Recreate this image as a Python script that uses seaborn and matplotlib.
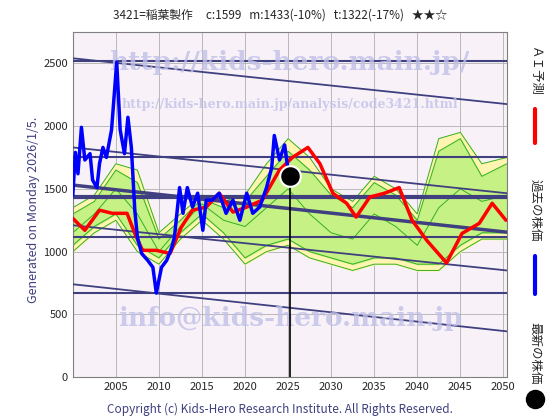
import numpy as np
import pandas as pd
import matplotlib
matplotlib.use("Agg")
import matplotlib.pyplot as plt
import seaborn as sns

sns.set_style("white")
plt.rcParams['font.family'] = ['Noto Sans CJK JP', 'DejaVu Sans']

# past prices (blue)
past_year = [2000.0, 2000.3, 2000.6, 2001.0, 2001.4, 2002.0, 2002.3, 2002.8, 2003.1, 2003.5,
             2003.9, 2004.5, 2005.1, 2005.5, 2006.0, 2006.4, 2006.8, 2007.2, 2007.5, 2008.0,
             2008.7, 2009.3, 2009.7, 2010.3, 2010.9, 2011.5, 2011.8, 2012.4, 2012.8, 2013.3,
             2013.9, 2014.5, 2015.1, 2015.5, 2016.2, 2017.0, 2017.8, 2018.6, 2019.4, 2020.2,
             2020.9, 2021.7, 2022.5, 2023.1, 2023.4, 2024.0, 2024.6, 2024.9, 2025.2]
past_price = [1450, 1790, 1620, 1990, 1730, 1780, 1570, 1510, 1700, 1830,
              1750, 1970, 2510, 1970, 1780, 2070, 1830, 1330, 1115, 985,
              930, 875, 670, 875, 930, 1035, 1115, 1510, 1305, 1510,
              1355, 1465, 1170, 1410, 1410, 1465, 1305, 1410, 1250, 1465,
              1305, 1355, 1510, 1670, 1925, 1730, 1850, 1700, 1599]

# AI forecast (red)
ai_year = [2000.0, 2001.4, 2003.1, 2004.6, 2006.3, 2007.2, 2008.1, 2009.7, 2011.3, 2012.6,
           2013.9, 2015.5, 2017.0, 2018.6, 2020.2, 2022.0, 2024.0, 2025.5, 2027.3, 2028.7,
           2030.2, 2031.8, 2032.9, 2034.5, 2036.2, 2037.9, 2039.4, 2041.1, 2043.4, 2045.2,
           2047.2, 2048.7, 2050.3]
ai_price = [1265, 1170, 1330, 1305, 1305, 1145, 1010, 1010, 985, 1195,
            1330, 1355, 1465, 1315, 1355, 1410, 1650, 1750, 1830, 1700,
            1465, 1385, 1275, 1435, 1465, 1510, 1250, 1090, 910, 1145,
            1225, 1385, 1250]

# pattern bands
band_year = [2000, 2002.5, 2005, 2007.5, 2010, 2012.5, 2015, 2017.5, 2020, 2022.5, 2025,
             2027.5, 2030, 2032.5, 2035, 2037.5, 2040, 2042.5, 2045, 2047.5, 2050.4]
yellow_hi = [1350, 1450, 1700, 1650, 1150, 1300, 1450, 1400, 1450, 1700, 1900,
             1750, 1500, 1400, 1600, 1500, 1300, 1900, 1950, 1700, 1750]
yellow_lo = [1000, 1150, 1250, 1000, 900, 1100, 1250, 1100, 900, 1000, 1050,
             950, 900, 850, 900, 900, 850, 850, 1000, 1100, 1100]
green_hi = [1300, 1400, 1650, 1550, 1100, 1250, 1420, 1350, 1400, 1600, 1800,
            1650, 1450, 1350, 1550, 1450, 1250, 1800, 1900, 1600, 1700]
green_lo = [1050, 1200, 1300, 1050, 950, 1150, 1300, 1150, 950, 1050, 1100,
            1000, 950, 900, 950, 950, 900, 900, 1050, 1150, 1150]
green_mid = [1150, 1300, 1500, 1300, 1000, 1200, 1380, 1250, 1200, 1350, 1500,
             1300, 1150, 1100, 1300, 1200, 1050, 1350, 1500, 1400, 1450]

# trend / support lines (start at 2000, end at 2050.4)
flat_levels = [2520, 1750, 1435, 1120, 670]
slope_start = [2540, 1830, 1530, 1210, 740]
slope_end = [2175, 1465, 1155, 850, 365]

fig = plt.figure(figsize=(5.6, 4.2), dpi=100)
ax = fig.add_axes([0.130, 0.102, 0.775, 0.822])
ax.set_facecolor('#f8f2f8')

ax.fill_between(band_year, yellow_lo, yellow_hi, color='#fff5b0', zorder=1)
ax.fill_between(band_year, green_lo, green_hi, color='#b8f07a', alpha=0.8, zorder=1)
for s in (yellow_hi, green_hi, green_mid, green_lo, yellow_lo):
    ax.plot(band_year, s, color='#33b020', lw=0.7, zorder=2)

for lv in flat_levels:
    ax.axhline(lv, color='#404080', lw=1.5 if lv != 1435 else 3, zorder=3)
for a, b in zip(slope_start, slope_end):
    ax.plot([2000, 2050.4], [a, b], color='#404080', lw=1.3 if a != 1530 else 2.5, zorder=3)

df_ai = pd.DataFrame({'year': ai_year, 'price': ai_price})
df_past = pd.DataFrame({'year': past_year, 'price': past_price})
sns.lineplot(data=df_ai, x='year', y='price', color='#ff0000', lw=2.5, ax=ax, zorder=5)
sns.lineplot(data=df_past, x='year', y='price', color='#0000ff', lw=2.5, ax=ax, zorder=6)

ax.plot([past_year[-1], past_year[-1]], [0, past_price[-1]], color='black', lw=1.2, zorder=6)
ax.scatter([past_year[-1]], [past_price[-1]], s=220, color='black', edgecolor='white', lw=1.5, zorder=7)

# watermarks
wm = '#c0c0e8'
ax.text(0.5, 0.91, 'http://kids-hero.main.jp/', transform=ax.transAxes, ha='center', va='center',
        fontsize=19, fontweight='bold', color=wm, alpha=0.8, family='DejaVu Serif', zorder=4)
ax.text(0.5, 0.79, 'http://kids-hero.main.jp/analysis/code3421.html', transform=ax.transAxes,
        ha='center', va='center', fontsize=9, fontweight='bold', color=wm, alpha=0.8,
        family='DejaVu Serif', zorder=4)
ax.text(0.5, 0.17, 'info@kids-hero.main.jp', transform=ax.transAxes, ha='center', va='center',
        fontsize=19, fontweight='bold', color=wm, alpha=0.8, family='DejaVu Serif', zorder=4)

ax.set_xlim(2000, 2050.4)
ax.set_ylim(0, 2750)
ax.set_yticks(range(0, 2501, 500))
ax.set_xticks(range(2000, 2051, 5))
ax.set_xticklabels([''] + [str(y) for y in range(2005, 2051, 5)])
ax.grid(True, color='#b0b0b0', lw=0.6)
ax.tick_params(labelsize=8, length=3, direction='in')
ax.set_xlabel('')
ax.set_ylabel('')
for sp in ax.spines.values():
    sp.set_color('#808080')

fig.text(0.5, 0.965, '3421=稲葉製作     c:1599   m:1433(-10%)   t:1322(-17%)   ★★☆',
         ha='center', va='center', fontsize=8.5)
fig.text(0.06, 0.5, 'Generated on Monday 2026/1/5.', rotation=90, ha='center', va='center',
         fontsize=9, color='#404080')
fig.text(0.5, 0.025, 'Copyright (c) Kids-Hero Research Institute. All Rights Reserved.',
         ha='center', va='center', fontsize=8.5, color='#404080')

# right side legend
fig.text(0.955, 0.83, 'ＡＩ予測', rotation=270, ha='center', va='center', fontsize=9)
fig.add_artist(plt.Line2D([0.955, 0.955], [0.66, 0.74], color='red', lw=3))
fig.text(0.955, 0.50, '過去の株価', rotation=270, ha='center', va='center', fontsize=9)
fig.add_artist(plt.Line2D([0.955, 0.955], [0.30, 0.39], color='blue', lw=3))
fig.text(0.955, 0.16, '最新の株価', rotation=270, ha='center', va='center', fontsize=9)
fig.add_artist(plt.Line2D([0.955], [0.05], marker='o', markersize=13, color='black'))

fig.savefig('out.png', dpi=100)
